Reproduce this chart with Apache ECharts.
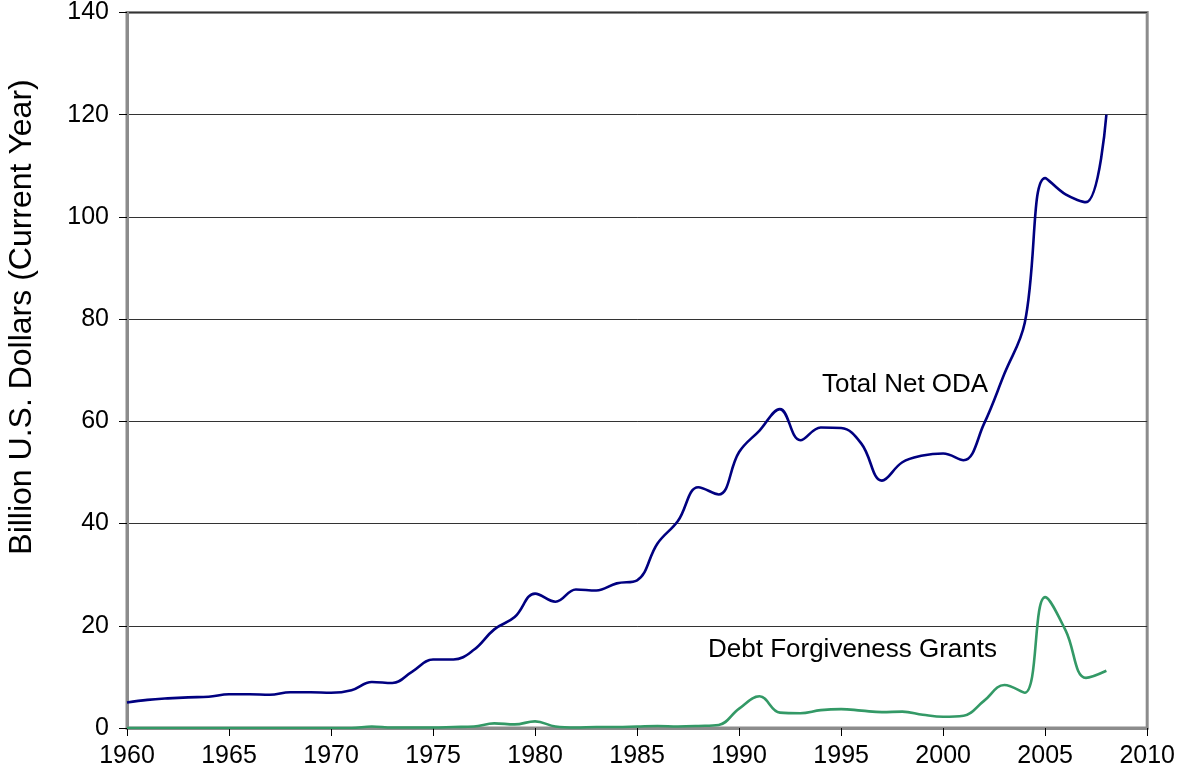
<!DOCTYPE html>
<html>
<head>
<meta charset="utf-8">
<script src="https://cdn.jsdelivr.net/npm/echarts@6/dist/echarts.min.js"></script>
<style>html,body{margin:0;padding:0;background:#fff}#c{width:1178px;height:782px}</style>
</head>
<body>
<div id="c"></div>
<script>
const years = [1960,1961,1962,1963,1964,1965,1966,1967,1968,1969,1970,1971,1972,1973,1974,1975,1976,1977,1978,1979,1980,1981,1982,1983,1984,1985,1986,1987,1988,1989,1990,1991,1992,1993,1994,1995,1996,1997,1998,1999,2000,2001,2002,2003,2004,2005,2006,2007,2008];
const totalNetODA = [5.0,5.5,5.8,6.0,6.1,6.6,6.6,6.5,7.0,7.0,6.9,7.4,9.0,8.8,11.1,13.4,13.4,15.3,19.3,21.7,26.3,24.7,27.1,26.9,28.3,28.9,36.1,40.5,47.1,45.7,54.0,58.2,62.4,56.3,58.8,58.7,55.6,48.4,52.0,53.3,53.7,52.4,59.5,69.3,79.3,107.6,104.4,102.9,120.0];
const debtForgiveness = [0,0,0,0,0,0,0,0,0,0,0,0,0.3,0.1,0.1,0.1,0.2,0.3,0.9,0.7,1.3,0.3,0.1,0.2,0.2,0.3,0.4,0.3,0.4,0.6,3.8,6.2,3.0,2.9,3.5,3.7,3.4,3.1,3.2,2.6,2.2,2.4,5.3,8.4,6.9,25.6,19.1,9.8,11.2];
const yAxisTitle = 'Billion U.S. Dollars (Current Year)';
const seriesLabels = ['Total Net ODA', 'Debt Forgiveness Grants'];

const font = 'Liberation Sans, Arial, sans-serif';
const chart = echarts.init(document.getElementById('c'), null, {renderer: 'canvas'});
chart.setOption({
  animation: false,
  backgroundColor: '#ffffff',
  grid: {left: 127, right: 30, top: 12, bottom: 54, show: true, borderColor: '#8c8c8c', borderWidth: 3, containLabel: false},
  xAxis: {
    type: 'value', min: 1960, max: 2010, interval: 5,
    axisLine: {show: true, lineStyle: {color: '#8c8c8c', width: 3}},
    axisTick: {show: true, inside: false, length: 8, lineStyle: {color: '#000', width: 1}},
    axisLabel: {color: '#000', fontSize: 25, fontFamily: font, margin: 16, formatter: v => String(v)},
    splitLine: {show: false}
  },
  yAxis: {
    type: 'value', min: 0, max: 140, interval: 20,
    axisLine: {show: true, lineStyle: {color: '#8c8c8c', width: 3}},
    axisTick: {show: true, inside: false, length: 8, lineStyle: {color: '#000', width: 1}},
    axisLabel: {color: '#000', fontSize: 25, fontFamily: font, margin: 18},
    splitLine: {show: true, lineStyle: {color: '#333', width: 1}}
  },
  series: [
    {name: seriesLabels[0], type: 'line', data: years.map((y,i)=>[y,totalNetODA[i]]), smooth: 0.4, showSymbol: false, lineStyle: {color: '#000080', width: 2.6}, z: 3},
    {name: seriesLabels[1], type: 'line', data: years.map((y,i)=>[y,debtForgiveness[i]]), smooth: 0.4, showSymbol: false, lineStyle: {color: '#339966', width: 2.6}, z: 2}
  ],
  graphic: [
    {type: 'text', x: 22, y: 317, rotation: Math.PI/2, style: {text: yAxisTitle, font: '32px ' + font, fill: '#000', textAlign: 'center', textVerticalAlign: 'middle'}},
    {type: 'text', x: 822, y: 385, style: {text: seriesLabels[0], font: '26px ' + font, fill: '#000', textAlign: 'left', textVerticalAlign: 'middle'}},
    {type: 'text', x: 708, y: 650, style: {text: seriesLabels[1], font: '26px ' + font, fill: '#000', textAlign: 'left', textVerticalAlign: 'middle'}}
  ]
});
</script>
</body>
</html>
